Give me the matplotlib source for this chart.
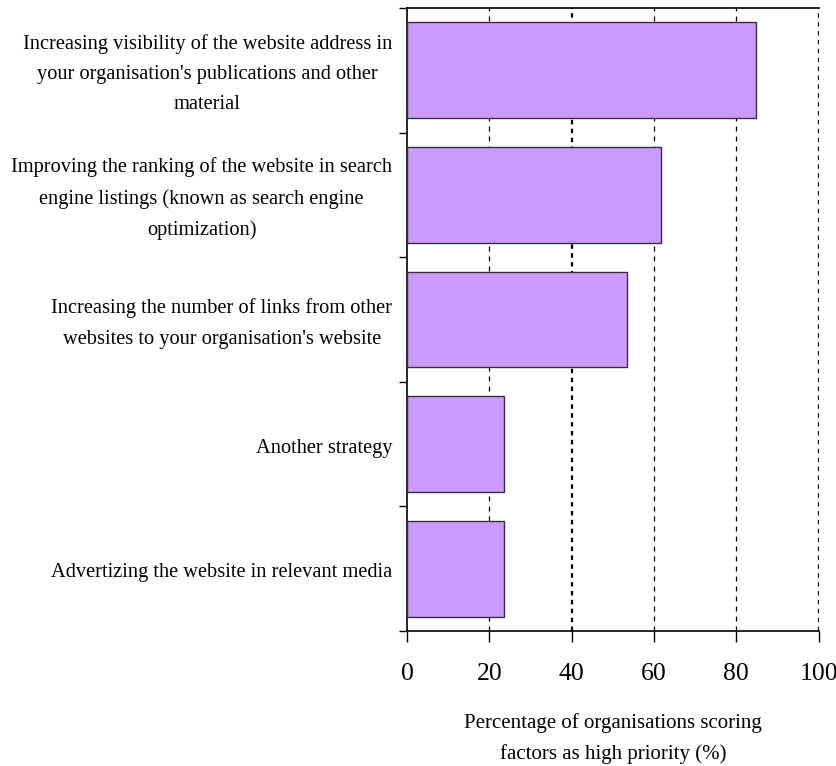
import matplotlib
matplotlib.use("Agg")
import matplotlib.pyplot as plt
import matplotlib.transforms as mtransforms

categories = [
    "Increasing visibility of the website address in\nyour organisation's publications and other\nmaterial",
    "Improving the ranking of the website in search\nengine listings (known as search engine\noptimization)",
    "Increasing the number of links from other\nwebsites to your organisation's website",
    "Another strategy",
    "Advertizing the website in relevant media",
]
values = [84.7, 61.7, 53.4, 23.6, 23.6]
xticks = [0, 20, 40, 60, 80, 100]
xlabel = "Percentage of organisations scoring\nfactors as high priority (%)"

plt.rcParams['font.family'] = ['Liberation Serif', 'DejaVu Serif']

W, H = 837, 766
fig = plt.figure(figsize=(W / 100, H / 100), dpi=100)
ax = fig.add_axes([407 / W, 1 - 631 / H, (818.7 - 407) / W, (631 - 8) / H])

n = len(categories)
ypos = list(range(n))
ax.barh(ypos, values, height=0.77, color='#cc99ff', edgecolor='#333333', linewidth=1.0, zorder=3)
ax.set_ylim(n - 0.5, -0.5)
ax.set_xlim(0, 100)

for x in [20, 60, 80]:
    ax.axvline(x, color='black', linestyle=(0, (4, 4)), linewidth=0.9, zorder=1)
for x in [40, 100]:
    ax.axvline(x, color='black', linestyle=(0, (2, 2)), linewidth=1.6, zorder=1)

ax.set_xticks(xticks)
ax.set_xticklabels([str(t) for t in xticks], fontsize=18.5)
ax.tick_params(axis='x', direction='out', length=8, width=1, pad=15)
ax.set_yticks([i - 0.5 for i in range(n + 1)])
ax.set_yticklabels([])
ax.tick_params(axis='y', direction='out', length=6, width=1)

trans = mtransforms.offset_copy(ax.transAxes, fig=fig, x=0, y=-4, units='dots')
for i, c in enumerate(categories):
    ax.text(-0.036, 1 - (i + 0.5) / n, c, transform=trans, ha='right', va='center',
            multialignment='center', fontsize=14.7, linespacing=1.8)

ax.spines['right'].set_visible(False)
for s in ['top', 'left', 'bottom']:
    ax.spines[s].set_linewidth(1.2)
ax.set_xlabel(xlabel, fontsize=15, labelpad=20, linespacing=1.8)

fig.savefig("out.png", dpi=100)
